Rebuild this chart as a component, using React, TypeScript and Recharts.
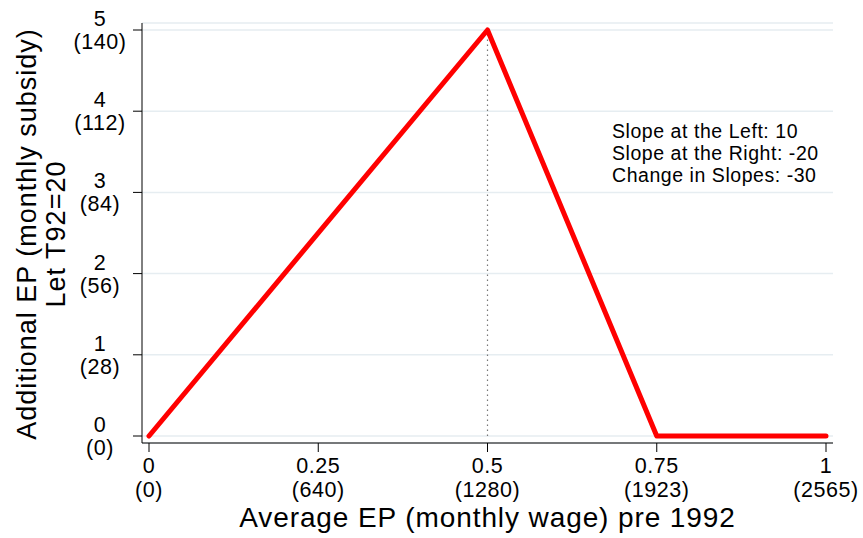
import React from "react";
import { LineChart, Line, XAxis, YAxis, CartesianGrid, ReferenceLine, Customized } from "recharts";

// kink of the subsidy schedule (share of average wage -> extra EP)
const wageShare = [0, 0.5, 0.75, 1];
const extraEP = [0, 5, 0, 0];

const xTicks = [0, 0.25, 0.5, 0.75, 1];
const xTickSub = ["(0)", "(640)", "(1280)", "(1923)", "(2565)"];
const yTicks = [0, 1, 2, 3, 4, 5];
const yTickSub = ["(0)", "(28)", "(56)", "(84)", "(112)", "(140)"];

const notes = ["Slope at the Left: 10", "Slope at the Right: -20", "Change in Slopes: -30"];

const data = wageShare.map((x, i) => ({ x, y: extraEP[i] }));

const FONT = "'Liberation Sans', Arial, Helvetica, sans-serif";

const XTick = (props: any) => {
  const { x, y, payload } = props;
  const i = xTicks.indexOf(payload.value);
  return (
    <g fontSize={21.5} fill="#000" fontFamily={FONT} letterSpacing={0.6}>
      <text x={x} y={y + 21} textAnchor="middle">
        {payload.value}
      </text>
      <text x={x} y={y + 45} textAnchor="middle">
        {xTickSub[i]}
      </text>
    </g>
  );
};

const YTick = (props: any) => {
  const { x, y, payload } = props;
  const i = yTicks.indexOf(payload.value);
  return (
    <g fontSize={21.5} fill="#000" fontFamily={FONT} letterSpacing={0.6}>
      <text x={x - 33} y={y - 4} textAnchor="middle">
        {payload.value}
      </text>
      <text x={x - 33} y={y + 19} textAnchor="middle">
        {yTickSub[i]}
      </text>
    </g>
  );
};

const YLabel = () => (
  <g transform="translate(0,234) rotate(-90)" fontSize={27} fill="#000" fontFamily={FONT} letterSpacing={1}>
    <text x={0} y={36} textAnchor="middle">
      Additional EP (monthly subsidy)
    </text>
    <text x={0} y={65} textAnchor="middle">
      Let T92=20
    </text>
  </g>
);

const Notes = () => (
  <g fontSize={19.5} fill="#000" fontFamily={FONT} letterSpacing={0.55}>
    {notes.map((t, i) => (
      <text key={t} x={612} y={138 + i * 22}>
        {t}
      </text>
    ))}
  </g>
);

export default function App() {
  return (
    <div style={{ position: "absolute", left: 0, top: 0, width: 863, height: 538, background: "#fff" }}>
      <LineChart width={863} height={538} data={data} margin={{ top: 23, right: 30, left: 0, bottom: 0 }}>
        <CartesianGrid horizontal vertical={false} stroke="#e6edf1" strokeWidth={1.5} />
        <XAxis
          dataKey="x"
          type="number"
          domain={[0, 1]}
          ticks={xTicks}
          padding={{ left: 7, right: 7 }}
          height={95}
          tickSize={9}
          tickMargin={0}
          tick={<XTick />}
          stroke="#000"
          label={{
            value: "Average EP (monthly wage) pre 1992",
            position: "insideBottom",
            offset: 11,
            fontSize: 28,
            fill: "#000",
            fontFamily: FONT,
            letterSpacing: 0.9,
          }}
        />
        <YAxis
          type="number"
          domain={[0, 5]}
          ticks={yTicks}
          padding={{ top: 7, bottom: 7 }}
          width={142}
          tickSize={9}
          tickMargin={0}
          tick={<YTick />}
          stroke="#000"
          label={<YLabel />}
        />
        <ReferenceLine
          segment={[
            { x: 0.5, y: 0 },
            { x: 0.5, y: 5 },
          ]}
          stroke="#777"
          strokeDasharray="1.5 3.5"
          strokeWidth={1.2}
        />
        <Line
          type="linear"
          dataKey="y"
          stroke="#ff0000"
          strokeWidth={5}
          strokeLinecap="round"
          strokeLinejoin="round"
          dot={false}
          isAnimationActive={false}
        />
        <Customized component={Notes} />
      </LineChart>
    </div>
  );
}
